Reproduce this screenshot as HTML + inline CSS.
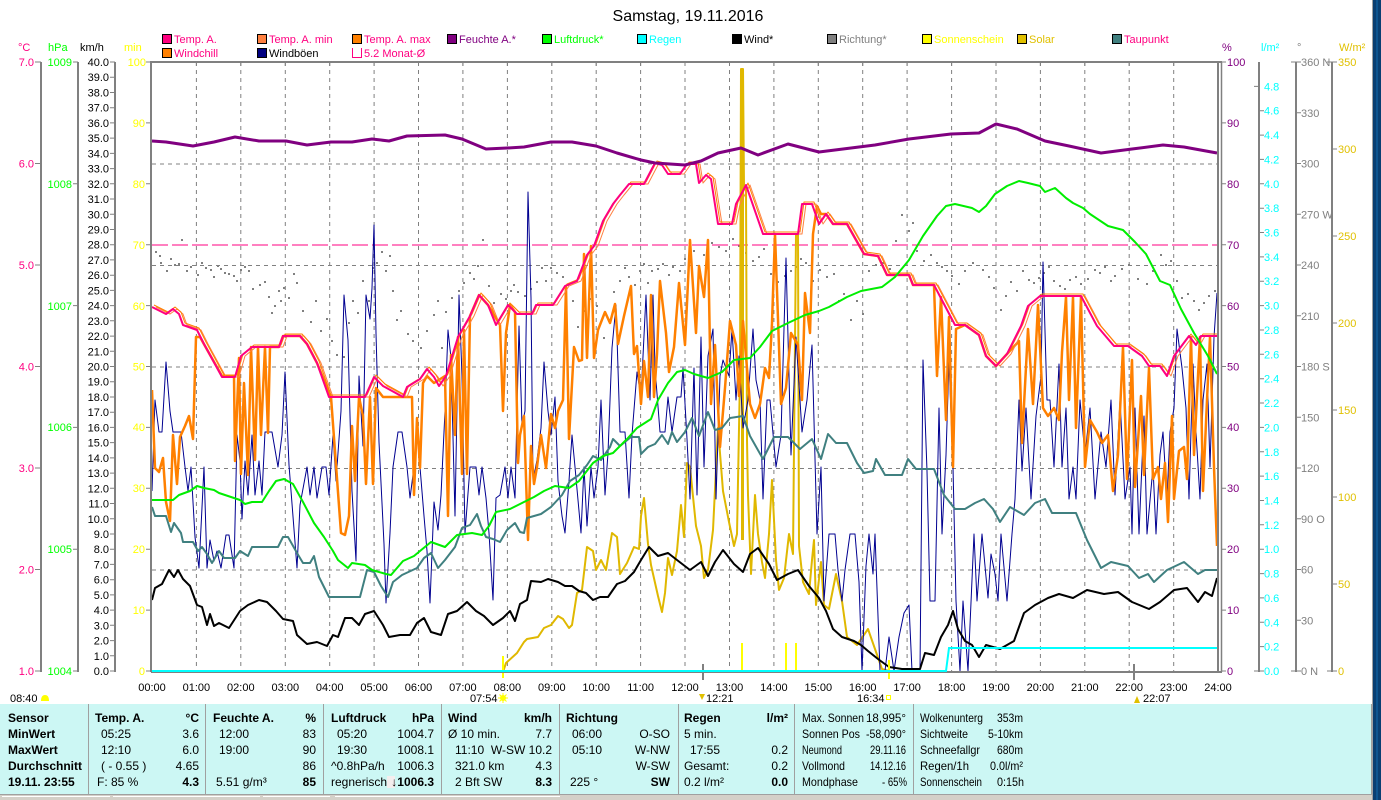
<!DOCTYPE html>
<html><head><meta charset="utf-8"><style>
html,body{margin:0;padding:0;background:#fff;}
body{width:1381px;height:800px;overflow:hidden;position:relative;}
svg{display:block;font-family:"Liberation Sans",sans-serif;}
</style></head><body>
<svg width="1381" height="800" viewBox="0 0 1381 800" xmlns="http://www.w3.org/2000/svg">
<rect x="0" y="0" width="1381" height="800" fill="#fff"/>
<rect x="1372" y="0" width="1" height="800" fill="#a0a0a0"/>
<rect x="1373" y="0" width="8" height="800" fill="#0a3f72"/>
<rect x="1376" y="0" width="2" height="800" fill="#0e5590"/>

<text x="688" y="21" font-size="16" text-anchor="middle" fill="#000">Samstag, 19.11.2016</text>

<g font-size="11">
<rect x="162.5" y="34.5" width="9" height="9" fill="#ff0080" stroke="#000"/><text x="174" y="43" fill="#ff0080">Temp. A.</text>
<rect x="257.5" y="34.5" width="9" height="9" fill="#ff8040" stroke="#000"/><text x="269" y="43" fill="#ff0080">Temp. A. min</text>
<rect x="352.5" y="34.5" width="9" height="9" fill="#ff8000" stroke="#000"/><text x="364" y="43" fill="#ff0080">Temp. A. max</text>
<rect x="447.5" y="34.5" width="9" height="9" fill="#800080" stroke="#000"/><text x="459" y="43" fill="#800080">Feuchte A.*</text>
<rect x="542.5" y="34.5" width="9" height="9" fill="#00ff00" stroke="#000"/><text x="554" y="43" fill="#00ff00">Luftdruck*</text>
<rect x="637.5" y="34.5" width="9" height="9" fill="#00ffff" stroke="#000"/><text x="649" y="43" fill="#00ffff">Regen</text>
<rect x="732.5" y="34.5" width="9" height="9" fill="#000" stroke="#000"/><text x="744" y="43" fill="#000">Wind*</text>
<rect x="827.5" y="34.5" width="9" height="9" fill="#808080" stroke="#000"/><text x="839" y="43" fill="#808080">Richtung*</text>
<rect x="922.5" y="34.5" width="9" height="9" fill="#ffff00" stroke="#000"/><text x="934" y="43" fill="#ffff00">Sonnenschein</text>
<rect x="1017.5" y="34.5" width="9" height="9" fill="#e0c000" stroke="#000"/><text x="1029" y="43" fill="#e0c000">Solar</text>
<rect x="1112.5" y="34.5" width="9" height="9" fill="#408080" stroke="#000"/><text x="1124" y="43" fill="#ff0080">Taupunkt</text>
<rect x="162.5" y="48.5" width="9" height="9" fill="#ff8000" stroke="#000"/><text x="174" y="57" fill="#ff0080">Windchill</text>
<rect x="257.5" y="48.5" width="9" height="9" fill="#000080" stroke="#000"/><text x="269" y="57" fill="#000">Windböen</text>
<path d="M352.5 48 V57.5 H361.5 V48" fill="none" stroke="#ff0080"/><text x="364" y="57" fill="#ff0080">5.2 Monat-Ø</text>
</g>

<g font-size="11">
<text x="18" y="51" fill="#ff0080">°C</text>
<text x="48" y="51" fill="#00ff00">hPa</text>
<text x="80" y="51" fill="#000">km/h</text>
<text x="124" y="51" fill="#ffff00">min</text>
<text x="1222" y="51" fill="#800080">%</text>
<text x="1261" y="51" fill="#00ffff">l/m²</text>
<text x="1297" y="51" fill="#808080">°</text>
<text x="1339" y="51" fill="#e0c000">W/m²</text>
</g>

<g stroke="#808080" stroke-width="2" fill="none">
<path d="M41 62 V672 M78 62 V672 M115 62 V672"/>
<path d="M1259 62 V672 M1296 62 V672 M1332 62 V672"/>
</g>
<g stroke="#808080" stroke-width="1">
<path d="M35 62H41 M35 163.5H41 M35 265H41 M35 366.5H41 M35 468H41 M35 569.5H41 M35 671H41"/>
<path d="M73 62H78 M73 183.8H78 M73 305.6H78 M73 427.4H78 M73 549.2H78 M73 671H78"/>
<path d="M110 62H115 M110 77.2H115 M110 92.5H115 M110 107.7H115 M110 122.9H115 M110 138.1H115 M110 153.4H115 M110 168.6H115 M110 183.8H115 M110 199H115 M110 214.3H115 M110 229.5H115 M110 244.7H115 M110 259.9H115 M110 275.2H115 M110 290.4H115 M110 305.6H115 M110 320.8H115 M110 336.1H115 M110 351.3H115 M110 366.5H115 M110 381.7H115 M110 397H115 M110 412.2H115 M110 427.4H115 M110 442.6H115 M110 457.9H115 M110 473.1H115 M110 488.3H115 M110 503.5H115 M110 518.8H115 M110 534H115 M110 549.2H115 M110 564.4H115 M110 579.7H115 M110 594.9H115 M110 610.1H115 M110 625.3H115 M110 640.6H115 M110 655.8H115 M110 671H115"/>
<path d="M146 62H151 M146 122.9H151 M146 183.8H151 M146 244.7H151 M146 305.6H151 M146 366.5H151 M146 427.4H151 M146 488.3H151 M146 549.2H151 M146 610.1H151 M146 671H151"/>
<path d="M1221 62H1226 M1221 122.9H1226 M1221 183.8H1226 M1221 244.7H1226 M1221 305.6H1226 M1221 366.5H1226 M1221 427.4H1226 M1221 488.3H1226 M1221 549.2H1226 M1221 610.1H1226 M1221 671H1226"/>
<path d="M1254 86.4H1259 M1259 110.7H1264 M1259 135.1H1264 M1259 159.4H1264 M1259 183.8H1264 M1259 208.2H1264 M1259 232.5H1264 M1259 256.9H1264 M1259 281.2H1264 M1259 305.6H1264 M1259 330H1264 M1259 354.3H1264 M1259 378.7H1264 M1259 403H1264 M1259 427.4H1264 M1259 451.8H1264 M1259 476.1H1264 M1259 500.5H1264 M1259 524.8H1264 M1259 549.2H1264 M1259 573.6H1264 M1259 597.9H1264 M1259 622.3H1264 M1259 646.6H1264 M1254 671H1264"/>
<path d="M1291 62H1301 M1296 112.8H1301 M1296 163.5H1301 M1296 214.3H1301 M1296 265H1301 M1296 315.8H1301 M1296 366.5H1301 M1296 417.3H1301 M1296 468H1301 M1296 518.8H1301 M1296 569.5H1301 M1296 620.3H1301 M1291 671H1301"/>
<path d="M1327 62H1337 M1332 149H1337 M1332 236H1337 M1332 323H1337 M1332 410H1337 M1332 497H1337 M1332 584H1337 M1327 671H1337"/>
</g>

<g font-size="11" text-anchor="end">
<g fill="#ff0080"><text x="34" y="66">7.0</text><text x="34" y="167.5">6.0</text><text x="34" y="269">5.0</text><text x="34" y="370.5">4.0</text><text x="34" y="472">3.0</text><text x="34" y="573.5">2.0</text><text x="34" y="675">1.0</text></g>
<g fill="#00ff00"><text x="72" y="66">1009</text><text x="72" y="188">1008</text><text x="72" y="310">1007</text><text x="72" y="431">1006</text><text x="72" y="553">1005</text><text x="72" y="675">1004</text></g>
<g fill="#000"><text x="109" y="66">40.0</text><text x="109" y="81">39.0</text><text x="109" y="96.5">38.0</text><text x="109" y="111.7">37.0</text><text x="109" y="126.9">36.0</text><text x="109" y="142">35.0</text><text x="109" y="157.4">34.0</text><text x="109" y="172.6">33.0</text><text x="109" y="187.8">32.0</text><text x="109" y="203">31.0</text><text x="109" y="218.3">30.0</text><text x="109" y="233.5">29.0</text><text x="109" y="248.7">28.0</text><text x="109" y="263.9">27.0</text><text x="109" y="279.2">26.0</text><text x="109" y="294.4">25.0</text><text x="109" y="309.6">24.0</text><text x="109" y="324.8">23.0</text><text x="109" y="340">22.0</text><text x="109" y="355.3">21.0</text><text x="109" y="370.5">20.0</text><text x="109" y="385.7">19.0</text><text x="109" y="401">18.0</text><text x="109" y="416.2">17.0</text><text x="109" y="431.4">16.0</text><text x="109" y="446.6">15.0</text><text x="109" y="461.9">14.0</text><text x="109" y="477">13.0</text><text x="109" y="492.3">12.0</text><text x="109" y="507.5">11.0</text><text x="109" y="522.8">10.0</text><text x="109" y="538">9.0</text><text x="109" y="553.2">8.0</text><text x="109" y="568.4">7.0</text><text x="109" y="583.7">6.0</text><text x="109" y="598.9">5.0</text><text x="109" y="614">4.0</text><text x="109" y="629.3">3.0</text><text x="109" y="644.6">2.0</text><text x="109" y="659.8">1.0</text><text x="109" y="675">0.0</text></g>
<g fill="#ffff00"><text x="146" y="66">100</text><text x="145" y="127">90</text><text x="145" y="188">80</text><text x="145" y="249">70</text><text x="145" y="310">60</text><text x="145" y="370.5">50</text><text x="145" y="431">40</text><text x="145" y="492">30</text><text x="145" y="553">20</text><text x="145" y="614">10</text><text x="145" y="675">0</text></g>
</g>
<g font-size="11">
<g fill="#800080"><text x="1227" y="66">100</text><text x="1227" y="127">90</text><text x="1227" y="188">80</text><text x="1227" y="249">70</text><text x="1227" y="310">60</text><text x="1227" y="370.5">50</text><text x="1227" y="431">40</text><text x="1227" y="492">30</text><text x="1227" y="553">20</text><text x="1227" y="614">10</text><text x="1227" y="675">0</text></g>
<g fill="#00ffff"><text x="1264" y="90.4">4.8</text><text x="1264" y="114.7">4.6</text><text x="1264" y="139">4.4</text><text x="1264" y="163.4">4.2</text><text x="1264" y="187.8">4.0</text><text x="1264" y="212">3.8</text><text x="1264" y="236.5">3.6</text><text x="1264" y="260.9">3.4</text><text x="1264" y="285.2">3.2</text><text x="1264" y="309.6">3.0</text><text x="1264" y="334">2.8</text><text x="1264" y="358.3">2.6</text><text x="1264" y="382.7">2.4</text><text x="1264" y="407">2.2</text><text x="1264" y="431.4">2.0</text><text x="1264" y="455.8">1.8</text><text x="1264" y="480">1.6</text><text x="1264" y="504.5">1.4</text><text x="1264" y="528.8">1.2</text><text x="1264" y="553.2">1.0</text><text x="1264" y="577.6">0.8</text><text x="1264" y="602">0.6</text><text x="1264" y="626.3">0.4</text><text x="1264" y="650.6">0.2</text><text x="1264" y="675">0.0</text></g>
<g fill="#808080"><text x="1301" y="66">360 N</text><text x="1301" y="116.8">330</text><text x="1301" y="167.5">300</text><text x="1301" y="218.3">270 W</text><text x="1301" y="269">240</text><text x="1301" y="319.8">210</text><text x="1301" y="370.5">180 S</text><text x="1301" y="421.3">150</text><text x="1301" y="472">120</text><text x="1301" y="522.8">90  O</text><text x="1301" y="573.5">60</text><text x="1301" y="624.3">30</text><text x="1301" y="675">0    N</text></g>
<g fill="#e0c000"><text x="1338" y="66">350</text><text x="1338" y="153">300</text><text x="1338" y="240">250</text><text x="1338" y="327">200</text><text x="1338" y="414">150</text><text x="1338" y="501">100</text><text x="1338" y="588">50</text><text x="1338" y="675">0</text></g>
</g>

<g stroke="#808080" stroke-width="1" stroke-dasharray="4,4" fill="none">
<path d="M196.4 62V671 M240.8 62V671 M285.3 62V671 M329.7 62V671 M374.1 62V671 M418.5 62V671 M462.9 62V671 M507.4 62V671 M551.8 62V671 M596.2 62V671 M640.6 62V671 M685 62V671 M729.5 62V671 M773.9 62V671 M818.3 62V671 M862.7 62V671 M907.1 62V671 M951.6 62V671 M996 62V671 M1040.4 62V671 M1084.8 62V671 M1129.2 62V671 M1173.7 62V671"/>
<path d="M152 164H1217 M152 265.5H1217 M152 367H1217 M152 468.5H1217 M152 570H1217"/>
</g>
<path fill="#808080" d="M155 251h2v2h-2z M159 255h2v2h-2z M181 239h2v2h-2z M166 270h2v2h-2z M174 264h2v2h-2z M178 263h2v2h-2z M190 266h2v2h-2z M197 274h2v2h-2z M205 267h2v2h-2z M210 269h2v2h-2z M217 265h2v2h-2z M224 272h2v2h-2z M228 273h2v2h-2z M233 275h2v2h-2z M240 269h2v2h-2z M248 270h2v2h-2z M259 284h2v2h-2z M264 281h2v2h-2z M271 312h2v2h-2z M274 305h2v2h-2z M278 290h2v2h-2z M283 287h2v2h-2z M288 297h2v2h-2z M293 273h2v2h-2z M310 321h2v2h-2z M326 318h2v2h-2z M336 354h2v2h-2z M343 356h2v2h-2z M357 312h2v2h-2z M372 267h2v2h-2z M381 251h2v2h-2z M389 255h2v2h-2z M396 319h2v2h-2z M407 333h2v2h-2z M420 347h2v2h-2z M433 314h2v2h-2z M441 347h2v2h-2z M445 311h2v2h-2z M451 297h2v2h-2z M469 272h2v2h-2z M477 265h2v2h-2z M482 239h2v2h-2z M493 302h2v2h-2z M500 293h2v2h-2z M510 290h2v2h-2z M517 291h2v2h-2z M524 295h2v2h-2z M536 281h2v2h-2z M541 267h2v2h-2z M550 267h2v2h-2z M562 276h2v2h-2z M567 284h2v2h-2z M577 326h2v2h-2z M589 298h2v2h-2z M603 337h2v2h-2z M613 291h2v2h-2z M624 267h2v2h-2z M634 284h2v2h-2z M643 263h2v2h-2z M651 270h2v2h-2z M662 263h2v2h-2z M668 274h2v2h-2z M679 270h2v2h-2z M711 242h2v2h-2z M718 246h2v2h-2z M725 250h2v2h-2z M732 238h2v2h-2z M758 256h2v2h-2z M763 248h2v2h-2z M770 273h2v2h-2z M777 281h2v2h-2z M784 275h2v2h-2z M795 266h2v2h-2z M805 262h2v2h-2z M819 269h2v2h-2z M833 273h2v2h-2z M843 293h2v2h-2z M850 319h2v2h-2z M862 313h2v2h-2z M875 264h2v2h-2z M889 268h2v2h-2z M901 214h2v2h-2z M908 230h2v2h-2z M916 250h2v2h-2z M923 260h2v2h-2z M930 254h2v2h-2z M941 266h2v2h-2z M951 275h2v2h-2z M958 283h2v2h-2z M972 262h2v2h-2z M982 269h2v2h-2z M993 287h2v2h-2z M1000 309h2v2h-2z M1010 281h2v2h-2z M1028 279h2v2h-2z M1038 277h2v2h-2z M1048 266h2v2h-2z M1059 285h2v2h-2z M1069 279h2v2h-2z M1080 283h2v2h-2z M1094 269h2v2h-2z M1104 266h2v2h-2z M1114 275h2v2h-2z M1128 264h2v2h-2z M1146 283h2v2h-2z M1160 254h2v2h-2z M1170 260h2v2h-2z M1181 297h2v2h-2z M1187 293h2v2h-2z M1198 309h2v2h-2z M1208 295h2v2h-2z
M160 262h2v2h-2z M170 258h2v2h-2z M186 270h2v2h-2z M201 262h2v2h-2z M213 276h2v2h-2z M220 268h2v2h-2z M236 280h2v2h-2z M244 266h2v2h-2z M252 288h2v2h-2z M268 296h2v2h-2z M280 300h2v2h-2z M296 282h2v2h-2z M302 310h2v2h-2z M315 300h2v2h-2z M320 330h2v2h-2z M331 340h2v2h-2z M348 322h2v2h-2z M352 300h2v2h-2z M362 280h2v2h-2z M368 300h2v2h-2z M376 262h2v2h-2z M385 270h2v2h-2z M392 290h2v2h-2z M400 310h2v2h-2z M412 340h2v2h-2z M426 330h2v2h-2z M437 300h2v2h-2z M458 290h2v2h-2z M463 282h2v2h-2z M473 278h2v2h-2z M488 285h2v2h-2z M505 298h2v2h-2z M513 284h2v2h-2z M530 288h2v2h-2z M545 280h2v2h-2z M556 272h2v2h-2z M572 300h2v2h-2z M583 310h2v2h-2z M596 305h2v2h-2z M608 320h2v2h-2z M619 280h2v2h-2z M628 276h2v2h-2z M639 270h2v2h-2z M647 282h2v2h-2z M657 268h2v2h-2z M672 266h2v2h-2z M684 258h2v2h-2z M693 250h2v2h-2z M703 254h2v2h-2z M738 245h2v2h-2z M745 252h2v2h-2z M752 260h2v2h-2z M790 270h2v2h-2z M800 258h2v2h-2z M812 280h2v2h-2z M826 276h2v2h-2z M838 300h2v2h-2z M856 300h2v2h-2z M868 270h2v2h-2z M882 262h2v2h-2z M895 240h2v2h-2z M912 222h2v2h-2z M936 262h2v2h-2z M946 270h2v2h-2z M964 270h2v2h-2z M988 276h2v2h-2z M1005 295h2v2h-2z M1016 290h2v2h-2z M1022 270h2v2h-2z M1033 282h2v2h-2z M1043 272h2v2h-2z M1053 280h2v2h-2z M1064 288h2v2h-2z M1075 276h2v2h-2z M1087 278h2v2h-2z M1099 272h2v2h-2z M1110 280h2v2h-2z M1121 268h2v2h-2z M1137 278h2v2h-2z M1152 270h2v2h-2z M1165 264h2v2h-2z M1176 280h2v2h-2z M1193 300h2v2h-2z M1203 302h2v2h-2z M1214 290h2v2h-2z"/>

<path d="M152 245H1217" stroke="#ff0080" stroke-width="1" stroke-dasharray="16,4"/>

<g fill="none" stroke-linejoin="round">
<polyline stroke="#e0b800" stroke-width="2" points="503,672 506,663 517,653 524,642 527,639 538,637 544,628 551,625 558,616 563,619 569,628 572,625 577,593 582,590 587,547 593,551 596,570 601,560 606,570 612,533 617,537 620,574 627,563 634,547 639,549 641,516 644,498 648,544 651,565 658,596 662,612 665,593 668,558 672,575 677,551 681,505 684,537 687,463 690,467 696,526 701,546 704,578 708,570 713,530 718,428 723,491 729,522 734,546 737,534 740,376 741,69 743,69 744,187 746,187 747,440 748,495 751,574 755,495 758,534 762,562 765,578 769,534 772,480 774,520 776,560 779,590 784,578 789,534 793,554 796,235 798,235 799,546 803,582 809,594 812,560 814,540 816,605 821,562 824,605 829,609 836,574 842,601 847,637 857,645 868,629 875,649 882,669 889,671"/>
<path d="M742.5 69V540" stroke="#e0b800" stroke-width="3"/>
<polyline stroke="#000090" stroke-width="1" points="152,491 155,400 159,432 162,432 166,362 170,411 173,432 181,432 185,467 188,491 191,467 195,537 199,568 204,467 207,568 210,540 214,561 217,551 221,568 226,535 229,535 234,568 237,435 240,461 242,519 245,461 248,495 252,435 255,495 259,461 262,495 265,432 272,432 278,467 282,435 285,372 289,465 297,568 300,505 307,467 310,495 314,467 317,498 322,467 326,467 329,495 333,435 336,481 341,411 344,295 348,340 352,491 356,561 359,376 363,446 366,295 370,319 372,288 374,225 376,333 379,442 384,544 386,603 390,533 393,467 398,432 402,432 407,467 410,498 414,467 417,432 420,467 424,516 427,551 430,603 434,502 438,530 441,495 445,411 448,330 451,358 455,516 459,295 462,376 465,533 470,467 476,467 479,495 482,467 486,498 489,533 493,600 496,498 500,495 505,467 508,498 511,467 515,498 519,326 522,425 525,411 528,192 531,298 533,481 537,460 541,428 544,362 548,411 551,435 555,397 558,481 562,516 565,533 569,481 572,435 575,467 581,533 584,467 587,526 591,467 594,498 598,467 601,400 605,495 608,453 612,348 616,305 620,432 625,432 629,498 632,435 637,372 641,397 646,295 650,400 653,295 655,368 660,432 665,432 668,397 672,432 677,397 681,397 683,368 687,439 690,499 694,368 697,495 701,337 704,467 708,356 713,329 716,499 720,376 723,360 729,376 732,329 736,400 739,356 743,428 748,400 753,329 756,380 760,400 763,499 767,400 770,400 776,467 781,435 786,258 791,455 796,337 802,432 807,400 812,345 817,534 821,467 824,601 829,534 835,534 838,570 842,601 845,570 850,534 855,534 859,582 862,671 866,566 869,534 873,574 875,534 880,671 885,671 889,637 894,671 899,637 904,613 909,605 912,671 920,671 923,360 927,471 930,601 935,601 939,408 942,534 946,455 949,360 953,467 956,601 960,671 963,601 968,671 974,534 977,601 982,534 988,598 991,554 995,574 998,601 1001,534 1007,601 1012,534 1015,499 1019,400 1022,471 1026,408 1031,499 1036,416 1041,376 1043,262 1047,400 1050,400 1054,467 1059,364 1062,467 1066,408 1069,499 1073,467 1076,499 1080,400 1085,455 1090,408 1095,499 1101,432 1106,467 1111,400 1115,495 1120,400 1125,499 1130,467 1132,534 1135,408 1139,534 1144,416 1147,534 1153,467 1156,534 1160,455 1163,432 1167,499 1170,432 1174,408 1177,329 1182,368 1186,408 1189,499 1193,364 1196,432 1200,499 1203,400 1207,364 1210,467 1214,337 1217,293"/>
<polyline stroke="#ff8000" stroke-width="2.5" points="152,390 155,468 159,472 163,458 166,502 170,521 173,435 177,484 180,437 185,426 189,416 193,439 196,337 200,337 205,346 222,376 234,376 235,461 239,358 241,474 244,383 248,475 251,347 255,460 258,347 261,435 265,347 268,433 270,347 279,347 283,336 300,336 307,344 317,363 331,397 341,533 345,535 349,516 352,426 355,481 359,397 363,416 366,484 370,397 373,484 376,388 383,397 412,397 414,495 417,418 420,468 423,383 427,376 434,383 445,376 448,516 451,355 455,435 458,337 462,474 464,330 467,474 470,316 479,295 488,305 500,325 503,411 506,333 510,305 515,312 518,463 520,435 524,416 528,540 531,446 534,484 537,467 541,435 546,468 551,414 555,428 558,411 563,400 566,286 569,439 574,347 579,361 582,360 584,254 587,358 591,246 594,358 598,330 605,312 610,323 615,304 618,344 624,316 631,286 634,354 637,346 641,404 644,361 648,397 651,295 654,397 657,354 660,281 666,333 669,372 674,347 679,283 685,345 690,240 696,333 699,266 704,297 708,240 711,404 715,345 720,447 725,388 730,321 736,345 739,396 743,321 750,404 755,418 760,404 765,368 769,378 772,323 775,234 781,404 786,388 791,333 798,345 802,400 805,293 810,333 813,234 817,206 821,214 826,214 833,224 847,224 864,254 878,256 887,275 909,275 913,285 934,285 937,376 941,297 946,420 949,317 953,467 956,329 965,325 979,335 986,356 996,366 1007,354 1019,341 1022,443 1028,329 1033,404 1038,305 1043,408 1048,416 1054,408 1059,420 1062,352 1066,297 1069,400 1073,297 1076,428 1081,297 1085,467 1090,420 1097,432 1102,443 1108,435 1113,491 1118,455 1123,347 1127,479 1132,360 1135,487 1141,396 1144,475 1149,368 1153,479 1158,467 1161,499 1165,463 1168,522 1172,416 1174,499 1179,451 1184,447 1187,479 1191,337 1194,455 1200,337 1203,491 1207,400 1210,337 1214,467 1217,546"/>
<polyline stroke="#ff8040" stroke-width="1" transform="translate(4,0)" points="152,307 166,314 173,309 179,314 183,325 197,330 204,344 222,377 235,377 241,356 252,347 279,347 283,336 300,336 307,344 317,363 329,397 365,397 374,377 383,386 403,397 407,387 420,379 427,369 434,377 439,386 446,376 458,337 470,316 479,295 488,305 496,325 508,305 517,314 532,314 536,305 553,305 565,286 577,281 587,255 594,246 603,221 613,204 620,195 629,184 644,184 655,163 662,165 668,174 680,174 687,164 696,164 699,183 706,175 711,179 718,224 732,224 736,204 746,185 763,234 798,234 802,204 812,204 819,224 826,214 833,224 847,224 864,254 878,256 887,275 909,275 913,285 934,285 955,325 965,325 979,335 986,356 996,366 1007,354 1021,326 1028,306 1040,296 1081,296 1097,326 1114,346 1128,346 1142,356 1149,366 1160,366 1167,376 1174,356 1189,336 1196,345 1201,336 1213,336"/>
<polyline stroke="#ff8000" stroke-width="1" transform="translate(2,-2)" points="152,307 166,314 173,309 179,314 183,325 197,330 204,344 222,377 235,377 241,356 252,347 279,347 283,336 300,336 307,344 317,363 329,397 365,397 374,377 383,386 403,397 407,387 420,379 427,369 434,377 439,386 446,376 458,337 470,316 479,295 488,305 496,325 508,305 517,314 532,314 536,305 553,305 565,286 577,281 587,255 594,246 603,221 613,204 620,195 629,184 644,184 655,163 662,165 668,174 680,174 687,164 696,164 699,183 706,175 711,179 718,224 732,224 736,204 746,185 763,234 798,234 802,204 812,204 819,224 826,214 833,224 847,224 864,254 878,256 887,275 909,275 913,285 934,285 955,325 965,325 979,335 986,356 996,366 1007,354 1021,326 1028,306 1040,296 1081,296 1097,326 1114,346 1128,346 1142,356 1149,366 1160,366 1167,376 1174,356 1189,336 1196,345 1201,336 1215,336"/>
<polyline stroke="#ff0080" stroke-width="2" points="152,307 166,314 173,309 179,314 183,325 197,330 204,344 222,377 235,377 241,356 252,347 279,347 283,336 300,336 307,344 317,363 329,397 365,397 374,377 383,386 403,397 407,387 420,379 427,369 434,377 439,386 446,376 458,337 470,316 479,295 488,305 496,325 508,305 517,314 532,314 536,305 553,305 565,286 577,281 587,255 594,246 603,221 613,204 620,195 629,184 644,184 655,163 662,165 668,174 680,174 687,164 696,164 699,183 706,175 711,179 718,224 732,224 736,204 746,185 763,234 798,234 802,204 812,204 819,224 826,214 833,224 847,224 864,254 878,256 887,275 909,275 913,285 934,285 955,325 965,325 979,335 986,356 996,366 1007,354 1021,326 1028,306 1040,296 1081,296 1097,326 1114,346 1128,346 1142,356 1149,366 1160,366 1167,376 1174,356 1189,336 1196,345 1201,336 1217,336"/>
<polyline stroke="#800080" stroke-width="3" points="152,141 166,142 193,146 214,142 235,137 259,141 286,141 307,145 331,142 352,142 372,139 389,141 407,136 445,135 462,139 486,149 507,148 524,147 551,142 572,142 596,146 617,153 641,160 655,163 685,165 701,161 718,153 741,148 758,155 788,144 819,152 875,145 909,139 951,134 979,133 996,124 1017,129 1045,141 1069,146 1101,153 1132,149 1163,145 1184,147 1217,153"/>
<polyline stroke="#408080" stroke-width="2" points="152,507 155,516 166,516 171,532 174,523 181,533 183,542 193,542 198,551 202,547 207,554 212,563 219,551 224,558 235,558 240,551 248,556 252,547 278,547 283,537 288,537 297,553 303,563 310,563 314,556 319,577 329,597 360,597 367,570 374,572 381,586 388,597 393,582 402,575 417,568 424,558 431,553 438,568 445,560 455,547 462,528 470,525 477,514 481,526 486,537 493,539 500,542 507,530 515,523 520,532 524,533 527,518 541,514 551,507 562,495 570,481 579,475 587,465 593,456 601,460 610,447 613,439 620,446 631,437 639,437 641,454 648,447 655,444 662,435 668,444 672,432 677,442 685,432 692,418 699,436 708,412 715,430 722,428 730,418 743,416 750,436 763,459 774,437 788,437 800,449 812,439 821,459 828,434 836,443 847,443 857,463 864,473 873,471 876,459 885,475 902,475 908,459 916,469 934,469 944,495 955,509 965,509 975,503 984,499 993,509 1000,522 1010,507 1024,515 1035,503 1045,499 1052,513 1076,513 1087,540 1101,568 1111,562 1128,566 1139,578 1148,574 1154,582 1167,570 1184,562 1198,574 1205,570 1217,570"/>
<polyline stroke="#00ee00" stroke-width="2" points="152,500 173,500 179,495 190,491 197,486 204,488 214,490 219,493 231,497 240,500 245,504 252,502 262,502 269,491 276,481 284,479 293,484 303,502 314,523 324,537 333,551 338,560 348,568 352,563 365,565 372,570 386,574 391,575 403,561 414,556 420,551 431,542 445,547 457,535 472,533 482,535 489,526 496,512 510,509 524,502 534,497 544,491 555,486 569,488 579,481 593,463 603,456 613,453 627,439 637,428 651,419 658,400 668,383 677,372 685,370 694,374 708,378 722,372 734,360 750,358 760,347 772,331 788,323 805,315 819,311 829,307 847,297 861,291 882,287 895,277 909,260 923,236 937,216 946,206 955,204 972,208 979,212 986,206 995,194 1007,186 1019,181 1028,183 1040,186 1045,192 1055,188 1066,198 1073,203 1083,208 1090,214 1108,226 1123,230 1135,242 1146,254 1160,281 1170,285 1181,309 1194,333 1208,356 1217,374"/>
<polyline stroke="#000" stroke-width="2" points="152,600 155,588 162,584 169,570 174,577 178,570 183,579 190,586 197,605 202,607 207,625 210,614 214,626 219,623 229,628 240,611 248,605 259,600 267,602 276,611 283,619 293,621 297,635 307,644 317,642 327,646 333,635 338,637 345,618 352,618 359,625 365,614 374,611 383,625 389,637 400,635 410,635 417,623 424,618 431,632 441,635 448,614 457,611 467,602 476,611 484,616 493,625 503,618 510,611 515,621 520,604 527,600 531,581 541,582 548,579 558,582 565,586 572,586 579,591 586,593 593,600 600,597 608,597 617,584 625,581 634,572 641,560 649,547 658,556 668,553 677,560 690,570 701,562 708,576 715,562 723,550 734,564 743,572 750,554 758,548 769,564 777,580 788,574 798,570 809,586 819,598 826,611 833,629 842,637 854,641 861,645 868,651 878,659 889,667 902,669 920,669 925,653 934,655 941,637 948,625 953,611 958,629 965,641 972,645 979,657 986,645 1000,649 1014,641 1024,613 1035,605 1048,598 1059,594 1073,598 1087,590 1104,594 1118,592 1132,602 1149,609 1160,602 1174,590 1187,588 1198,602 1205,592 1212,596 1217,578"/>
</g>
<g stroke="#ffff00" stroke-width="2">
<path d="M742 643V671 M786 643V671 M796 643V671"/>
<path d="M503 656V678 M889 660V679"/>
</g>
<path d="M703 664V680 M1134 664V680" stroke="#808080" stroke-width="2"/>

<g stroke="#808080" fill="none">
<path d="M151 61.5V672" stroke-width="2"/>
<path d="M150 62H1222" stroke-width="2"/>
<path d="M151 672H1222" stroke-width="2"/>
<path d="M1218 62V672" stroke-width="2"/>
<path d="M1221.5 62V672" stroke-width="1.5"/>
<path d="M196.4 62V66 M240.8 62V66 M285.3 62V66 M329.7 62V66 M374.1 62V66 M418.5 62V66 M462.9 62V66 M507.4 62V66 M551.8 62V66 M596.2 62V66 M640.6 62V66 M685 62V66 M729.5 62V66 M773.9 62V66 M818.3 62V66 M862.7 62V66 M907.1 62V66 M951.6 62V66 M996 62V66 M1040.4 62V66 M1084.8 62V66 M1129.2 62V66 M1173.7 62V66"/>
</g>
<polyline fill="none" stroke="#00ffff" stroke-width="2" points="152,671 946,671 949,648 1217,648"/>

<g font-size="11" text-anchor="middle" fill="#000">
<text x="152" y="691">00:00</text><text x="196.4" y="691">01:00</text><text x="240.8" y="691">02:00</text><text x="285.3" y="691">03:00</text><text x="329.7" y="691">04:00</text><text x="374.1" y="691">05:00</text><text x="418.5" y="691">06:00</text><text x="462.9" y="691">07:00</text><text x="507.4" y="691">08:00</text><text x="551.8" y="691">09:00</text><text x="596.2" y="691">10:00</text><text x="640.6" y="691">11:00</text><text x="685" y="691">12:00</text><text x="729.5" y="691">13:00</text><text x="773.9" y="691">14:00</text><text x="818.3" y="691">15:00</text><text x="862.7" y="691">16:00</text><text x="907.1" y="691">17:00</text><text x="951.6" y="691">18:00</text><text x="996" y="691">19:00</text><text x="1040.4" y="691">20:00</text><text x="1084.8" y="691">21:00</text><text x="1129.2" y="691">22:00</text><text x="1173.7" y="691">23:00</text><text x="1218" y="691">24:00</text>
</g>
<g font-size="11" fill="#000">
<text x="10" y="702">08:40</text>
<path d="M41 701 Q41 695 45 695 Q49 695 49 701 Z" fill="#ffff00"/>
<text x="470" y="702">07:54</text>
<circle cx="503" cy="698" r="3" fill="#ffff00"/>
<path d="M498 698H508 M503 693V703 M499.5 694.5L506.5 701.5 M506.5 694.5L499.5 701.5" stroke="#ffff00" stroke-width="1"/>
<path d="M699 694H705L702 700Z" fill="#e0c000"/>
<text x="706" y="702">12:21</text>
<text x="857" y="702">16:34</text>
<rect x="886.5" y="695.5" width="4" height="4" fill="none" stroke="#ffff00"/>
<path d="M1134 703L1137 696L1140 703Z" fill="#e0c000"/>
<text x="1143" y="702">22:07</text>
</g>

<rect x="0" y="704" width="1372" height="90" fill="#ccf7f4"/>
<g stroke="#a0a0a0" stroke-width="1">
<path d="M88.5 704V794 M205.5 704V794 M323.5 704V794 M441.5 704V794 M559.5 704V794 M678.5 704V794 M794.5 704V794 M913.5 704V794 M1371.5 704V794"/>
</g>
<rect x="0" y="794" width="1372" height="6" fill="#d4d0c8"/>
<path d="M0 794.5H1372" stroke="#a0a0a0"/>
<path d="M2 796.5H110 M113 796.5H260 M263 796.5H330 M335 796.5H560" stroke="#fff"/>

<g font-size="12" fill="#000">
<g font-weight="bold"><text x="8" y="722">Sensor</text><text x="8" y="738">MinWert</text><text x="8" y="754">MaxWert</text><text x="8" y="770">Durchschnitt</text><text x="8" y="786">19.11. 23:55</text></g>
<text x="95" y="722" font-weight="bold">Temp. A.</text><text x="199" y="722" font-weight="bold" text-anchor="end">°C</text>
<text x="101" y="738">05:25</text><text x="199" y="738" text-anchor="end">3.6</text>
<text x="101" y="754">12:10</text><text x="199" y="754" text-anchor="end">6.0</text>
<text x="101" y="770">( - 0.55 )</text><text x="199" y="770" text-anchor="end">4.65</text>
<text x="97" y="786">F: 85 %</text><text x="199" y="786" text-anchor="end" font-weight="bold">4.3</text>
<text x="213" y="722" font-weight="bold">Feuchte A.</text><text x="316" y="722" font-weight="bold" text-anchor="end">%</text>
<text x="219" y="738">12:00</text><text x="316" y="738" text-anchor="end">83</text>
<text x="219" y="754">19:00</text><text x="316" y="754" text-anchor="end">90</text>
<text x="316" y="770" text-anchor="end">86</text>
<text x="216" y="786">5.51 g/m³</text><text x="316" y="786" text-anchor="end" font-weight="bold">85</text>
<text x="331" y="722" font-weight="bold">Luftdruck</text><text x="434" y="722" font-weight="bold" text-anchor="end">hPa</text>
<text x="337" y="738">05:20</text><text x="434" y="738" text-anchor="end">1004.7</text>
<text x="337" y="754">19:30</text><text x="434" y="754" text-anchor="end">1008.1</text>
<text x="331" y="770">^0.8hPa/h</text><text x="434" y="770" text-anchor="end">1006.3</text>
<text x="331" y="786">regnerisch</text>
<rect x="387" y="776" width="8" height="12" fill="#f4eeee"/>
<text x="434" y="786" text-anchor="end" font-weight="bold">↓1006.3</text>
<text x="448" y="722" font-weight="bold">Wind</text><text x="552" y="722" font-weight="bold" text-anchor="end">km/h</text>
<text x="448" y="738">Ø 10 min.</text><text x="552" y="738" text-anchor="end">7.7</text>
<text x="455" y="754">11:10</text><text x="552" y="754" text-anchor="end">W-SW 10.2</text>
<text x="455" y="770">321.0 km</text><text x="552" y="770" text-anchor="end">4.3</text>
<text x="455" y="786">2 Bft SW</text><text x="552" y="786" text-anchor="end" font-weight="bold">8.3</text>
<text x="566" y="722" font-weight="bold">Richtung</text>
<text x="572" y="738">06:00</text><text x="670" y="738" text-anchor="end">O-SO</text>
<text x="572" y="754">05:10</text><text x="670" y="754" text-anchor="end">W-NW</text>
<text x="670" y="770" text-anchor="end">W-SW</text>
<text x="570" y="786">225 °</text><text x="670" y="786" text-anchor="end" font-weight="bold">SW</text>
<text x="684" y="722" font-weight="bold">Regen</text><text x="788" y="722" font-weight="bold" text-anchor="end">l/m²</text>
<text x="684" y="738">5 min.</text>
<text x="690" y="754">17:55</text><text x="788" y="754" text-anchor="end">0.2</text>
<text x="684" y="770">Gesamt:</text><text x="788" y="770" text-anchor="end">0.2</text>
<text x="684" y="786">0.2 l/m²</text><text x="788" y="786" text-anchor="end" font-weight="bold">0.0</text>
<text x="802" y="722" textLength="62" lengthAdjust="spacingAndGlyphs">Max. Sonnen</text><text x="866" y="722" textLength="40" lengthAdjust="spacingAndGlyphs">18,995°</text>
<text x="802" y="738" textLength="58" lengthAdjust="spacingAndGlyphs">Sonnen Pos</text><text x="866" y="738" textLength="40" lengthAdjust="spacingAndGlyphs">-58,090°</text>
<text x="802" y="754" textLength="40" lengthAdjust="spacingAndGlyphs">Neumond</text><text x="870" y="754" textLength="36" lengthAdjust="spacingAndGlyphs">29.11.16</text>
<text x="802" y="770" textLength="43" lengthAdjust="spacingAndGlyphs">Vollmond</text><text x="870" y="770" textLength="36" lengthAdjust="spacingAndGlyphs">14.12.16</text>
<text x="802" y="786" textLength="56" lengthAdjust="spacingAndGlyphs">Mondphase</text><text x="882" y="786" textLength="25" lengthAdjust="spacingAndGlyphs">- 65%</text>
<text x="920" y="722" textLength="63" lengthAdjust="spacingAndGlyphs">Wolkenunterg</text><text x="997" y="722" textLength="26" lengthAdjust="spacingAndGlyphs">353m</text>
<text x="920" y="738" textLength="48" lengthAdjust="spacingAndGlyphs">Sichtweite</text><text x="988" y="738" textLength="35" lengthAdjust="spacingAndGlyphs">5-10km</text>
<text x="920" y="754" textLength="60" lengthAdjust="spacingAndGlyphs">Schneefallgr</text><text x="997" y="754" textLength="26" lengthAdjust="spacingAndGlyphs">680m</text>
<text x="920" y="770" textLength="49" lengthAdjust="spacingAndGlyphs">Regen/1h</text><text x="990" y="770" textLength="33" lengthAdjust="spacingAndGlyphs">0.0l/m²</text>
<text x="920" y="786" textLength="62" lengthAdjust="spacingAndGlyphs">Sonnenschein</text><text x="997" y="786" textLength="27" lengthAdjust="spacingAndGlyphs">0:15h</text>
</g>
</svg>
</body></html>
